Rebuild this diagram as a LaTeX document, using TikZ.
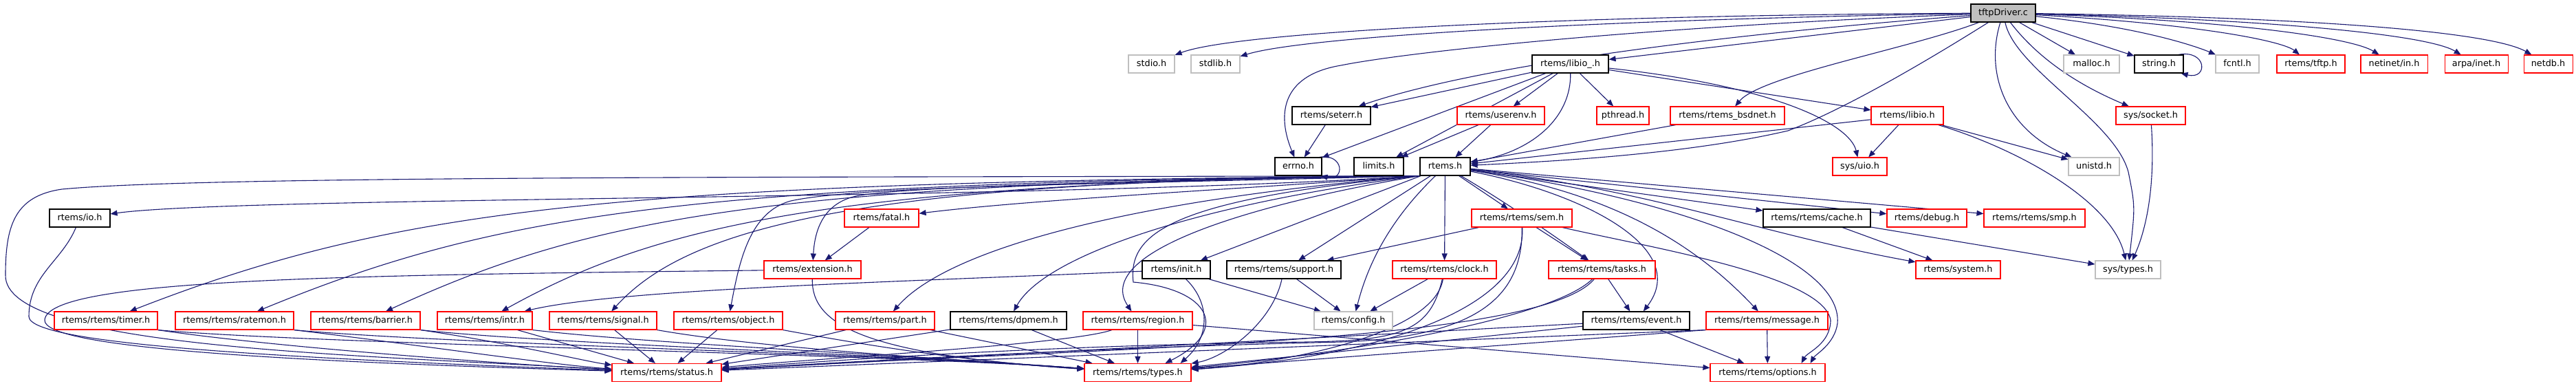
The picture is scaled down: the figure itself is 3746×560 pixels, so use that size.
\documentclass[tikz,border=0pt]{standalone}
\usepackage{fontspec}
\setmainfont{DejaVu Sans}
\usetikzlibrary{arrows.meta}
\definecolor{edgeblue}{HTML}{191970}
\definecolor{nodegrey}{HTML}{BFBFBF}
\definecolor{noderedc}{HTML}{FF0000}
\pgfdeclarelayer{edgelayer}
\pgfsetlayers{edgelayer,main}
\tikzset{
  nbase/.style={rectangle, line width=1.1pt, fill=white, minimum height=26pt, inner sep=0pt,
    text height=9.5pt, text depth=2.5pt, font=\fontsize{12.8}{14}\selectfont},
  kbox/.style={nbase, draw=black},
  rbox/.style={nbase, draw=noderedc},
  gbox/.style={nbase, draw=nodegrey},
  rootbox/.style={nbase, draw=black, fill=nodegrey},
  e/.style={draw=edgeblue, line width=1.1pt, -{Triangle[length=10pt,width=8pt]}, fill=none},
}
\begin{document}
\begin{tikzpicture}[x=1pt,y=-1pt]
\useasboundingbox (0,0) rectangle (3746,560);
% row 0
\node[rootbox, minimum width=94pt] (tftp) at (2913,19) {tftpDriver.c};
% row 1
\node[gbox, minimum width=67pt] (stdio) at (1674.5,93) {stdio.h};
\node[gbox, minimum width=71pt] (stdlib) at (1767.5,93) {stdlib.h};
\node[kbox, minimum width=111pt] (libiou) at (2283.5,93) {rtems/libio\_.h};
\node[gbox, minimum width=81pt] (malloc) at (3041.5,93) {malloc.h};
\node[kbox, minimum width=71pt] (string) at (3139.5,93) {string.h};
\node[gbox, minimum width=63pt] (fcntl) at (3253.5,93) {fcntl.h};
\node[rbox, minimum width=99pt] (tftph) at (3360.5,93) {rtems/tftp.h};
\node[rbox, minimum width=97pt] (netin) at (3481.5,93) {netinet/in.h};
\node[rbox, minimum width=92pt] (arpa) at (3601,93) {arpa/inet.h};
\node[rbox, minimum width=71pt] (netdb) at (3705.5,93) {netdb.h};
% row 2
\node[kbox, minimum width=114pt] (seterr) at (1936,168) {rtems/seterr.h};
\node[rbox, minimum width=127pt] (userenv) at (2182.5,168) {rtems/userenv.h};
\node[rbox, minimum width=76pt] (pthread) at (2360,168) {pthread.h};
\node[rbox, minimum width=166pt] (bsdnet) at (2512,168) {rtems/rtems\_bsdnet.h};
\node[rbox, minimum width=105pt] (libio) at (2773.5,168) {rtems/libio.h};
\node[rbox, minimum width=101pt] (socket) at (3127.5,168) {sys/socket.h};
% row 3
\node[kbox, minimum width=68pt] (errno) at (1888,242) {errno.h};
\node[kbox, minimum width=72pt] (limits) at (2005,242) {limits.h};
\node[kbox, minimum width=73pt] (rtems) at (2101.5,242) {rtems.h};
\node[rbox, minimum width=79pt] (uio) at (2704.5,242) {sys/uio.h};
\node[gbox, minimum width=74pt] (unistd) at (3045,242) {unistd.h};
% row 4
\node[kbox, minimum width=88pt] (io) at (116,317) {rtems/io.h};
\node[rbox, minimum width=108pt] (fatal) at (1282,317) {rtems/fatal.h};
\node[rbox, minimum width=146pt] (sem) at (2213,317) {rtems/rtems/sem.h};
\node[kbox, minimum width=156pt] (cache) at (2642,317) {rtems/rtems/cache.h};
\node[rbox, minimum width=116pt] (debug) at (2802,317) {rtems/debug.h};
\node[rbox, minimum width=147pt] (smp) at (2958.5,317) {rtems/rtems/smp.h};
% row 5
\node[rbox, minimum width=141pt] (ext) at (1181.5,392) {rtems/extension.h};
\node[kbox, minimum width=99pt] (init) at (1710.5,392) {rtems/init.h};
\node[kbox, minimum width=166pt] (support) at (1867,392) {rtems/rtems/support.h};
\node[rbox, minimum width=151pt] (clock) at (2100.5,392) {rtems/rtems/clock.h};
\node[rbox, minimum width=155pt] (tasks) at (2329.5,392) {rtems/rtems/tasks.h};
\node[rbox, minimum width=123pt] (system) at (2847.5,392) {rtems/system.h};
\node[gbox, minimum width=95pt] (systypes) at (3094.5,392) {sys/types.h};
% row 6
\node[rbox, minimum width=150pt] (timer) at (154,466) {rtems/rtems/timer.h};
\node[rbox, minimum width=172pt] (ratemon) at (341,466) {rtems/rtems/ratemon.h};
\node[rbox, minimum width=159pt] (barrier) at (531.5,466) {rtems/rtems/barrier.h};
\node[rbox, minimum width=138pt] (intr) at (705,466) {rtems/rtems/intr.h};
\node[rbox, minimum width=156pt] (signal) at (877,466) {rtems/rtems/signal.h};
\node[rbox, minimum width=158pt] (object) at (1059,466) {rtems/rtems/object.h};
\node[rbox, minimum width=144pt] (part) at (1287,466) {rtems/rtems/part.h};
\node[kbox, minimum width=169pt] (dpmem) at (1466.5,466) {rtems/rtems/dpmem.h};
\node[rbox, minimum width=159pt] (region) at (1654.5,466) {rtems/rtems/region.h};
\node[gbox, minimum width=114pt] (config) at (1968,466) {rtems/config.h};
\node[kbox, minimum width=155pt] (event) at (2379.5,466) {rtems/rtems/event.h};
\node[rbox, minimum width=177pt] (message) at (2569.5,466) {rtems/rtems/message.h};
% row 7
\node[rbox, minimum width=159pt] (status) at (969.5,541.5) {rtems/rtems/status.h};
\node[rbox, minimum width=155pt] (types) at (1654.5,541.5) {rtems/rtems/types.h};
\node[rbox, minimum width=167pt] (options) at (2570.5,541.5) {rtems/rtems/options.h};

\begin{pgfonlayer}{edgelayer}
% ---------------- tftpDriver.c
\draw[e] (tftp) .. controls (2300,22) and (1800,45) .. (stdio);
\draw[e] (tftp) .. controls (2350,28) and (1900,52) .. (stdlib);
\draw[e] (tftp) .. controls (2400,38) and (2050,75) .. (1950,95) .. controls (1860,110) and (1858,170) .. (errno);
\draw[e] (tftp) -- (libiou);
\draw[e] (tftp) .. controls (2500,50) and (2150,95) .. (seterr);
\draw[e] (tftp) .. controls (2780,70) and (2560,110) .. (bsdnet);
\draw[e] (tftp) .. controls (2800,90) and (2680,160) .. (2600,190) .. controls (2450,225) and (2250,235) .. (rtems);
\draw[e] (tftp) .. controls (2885,110) and (2920,190) .. (unistd);
\draw[e] (tftp) .. controls (2930,100) and (3075,175) .. (3095,250) .. controls (3105,300) .. (systypes);
\draw[e] (tftp) .. controls (2975,100) and (3050,135) .. (socket);
\draw[e] (tftp) -- (malloc);
\draw[e] (tftp) -- (string);
\draw[e] (tftp) .. controls (3120,40) and (3200,70) .. (fcntl);
\draw[e] (tftp) .. controls (3200,35) and (3320,60) .. (tftph);
\draw[e] (tftp) .. controls (3250,30) and (3420,55) .. (netin);
\draw[e] (tftp) .. controls (3300,28) and (3530,50) .. (arpa);
\draw[e] (tftp) .. controls (3350,25) and (3620,45) .. (netdb);
\draw[e] ([xshift=-8pt]string.north east) .. controls +(42,-8) and +(40,10) .. ([xshift=-4pt]string.south east);
\draw[e] ([xshift=-4pt]errno.north east) .. controls +(36,-6) and +(36,8) .. ([xshift=-2pt]errno.south east);
% ---------------- rtems/libio_.h
\draw[e] (libiou) -- (seterr);
\draw[e] (libiou) -- (errno);
\draw[e] (libiou) -- (limits);
\draw[e] (libiou) -- (userenv);
\draw[e] (libiou) -- (pthread);
\draw[e] (libiou) .. controls (2285,170) and (2230,220) .. (rtems);
\draw[e] (libiou) -- (libio);
\draw[e] (libiou) .. controls (2580,125) and (2690,180) .. (uio);
% ---------------- row 2
\draw[e] (seterr) -- (errno);
\draw[e] (userenv) -- (limits);
\draw[e] (userenv) -- (rtems);
\draw[e] (bsdnet) -- (rtems);
\draw[e] (libio) -- (rtems);
\draw[e] (libio) -- (uio);
\draw[e] (libio) -- (unistd);
\draw[e] (libio) .. controls (2930,215) and (3070,290) .. (systypes);
\draw[e] (socket) .. controls (3135,280) and (3118,340) .. (systypes);
% ---------------- rtems.h, leftward bundle
\draw[e] (rtems.south west) .. controls (1200,258) and (300,255) .. (90,275) .. controls (20,285) and (8,330) .. (8,400) .. controls (6,505) and (500,515) .. (status);
\draw[e] (rtems.south west) .. controls (1500,292) and (350,285) .. (io);
\draw[e] (rtems.south west) .. controls (1800,275) and (1500,290) .. (fatal);
\draw[e] (rtems.south west) .. controls (1700,262) and (1320,270) .. (1245,285) .. controls (1200,295) and (1185,330) .. (ext);
\draw[e] (rtems.south west) .. controls (900,265) and (580,300) .. (timer);
\draw[e] (rtems.south west) .. controls (1000,265) and (720,310) .. (ratemon);
\draw[e] (rtems.south west) .. controls (1100,265) and (850,320) .. (barrier);
\draw[e] (rtems.south west) .. controls (1200,265) and (950,330) .. (intr);
\draw[e] (rtems.south west) .. controls (1250,262) and (1000,330) .. (signal);
\draw[e] (rtems.south west) .. controls (1600,268) and (1250,270) .. (1150,292) .. controls (1090,308) and (1075,380) .. (object);
\draw[e] (rtems.south west) .. controls (1650,290) and (1380,360) .. (part);
\draw[e] (rtems.south west) .. controls (1750,295) and (1520,370) .. (dpmem);
\draw[e] (rtems.south west) .. controls (1800,300) and (1590,370) .. (region);
\draw[e] (rtems.south west) .. controls (1700,290) and (1640,340) .. (1648,410) .. controls (1760,420) and (1790,480) .. ([xshift=40pt]types.north);
% ---------------- rtems.h, downward and rightward
\draw[e] (rtems) -- (init);
\draw[e] (rtems) -- (support);
\draw[e] (rtems) .. controls (2010,330) and (1985,400) .. (config);
\draw[e] (rtems) -- (clock);
\draw[e] (rtems) -- (sem);
\draw[e] (rtems) .. controls (2200,300) and (2270,350) .. (tasks);
\draw[e] (rtems) .. controls (2300,280) and (2460,360) .. (event);
\draw[e] (rtems) .. controls (2350,280) and (2470,360) .. (message);
\draw[e] (rtems) .. controls (2450,290) and (2680,380) .. (2672,470) .. controls (2668,500) and (2640,515) .. ([xshift=-22pt]options.north east);
\draw[e] (rtems) -- (cache);
\draw[e] (rtems) -- (debug);
\draw[e] (rtems) -- (smp);
\draw[e] (rtems) .. controls (2400,275) and (2560,340) .. (system);
% ---------------- sem
\draw[e] (sem) -- (support);
\draw[e] (sem) -- (tasks);
\draw[e] (sem) .. controls (2215,430) and (2150,490) .. (1950,497) .. controls (1600,505) and (1250,525) .. (status);
\draw[e] (sem) .. controls (2220,450) and (2000,520) .. (types);
\draw[e] (sem) .. controls (2400,360) and (2650,400) .. (2662,465) .. controls (2662,500) and (2628,512) .. ([xshift=-35pt]options.north east);
% ---------------- cache, fatal, io, extension
\draw[e] (cache) -- (system);
\draw[e] (cache) -- (systypes);
\draw[e] (fatal) -- (ext);
\draw[e] (io) .. controls (90,380) and (42,400) .. (42,460) .. controls (42,500) and (400,520) .. (status);
\draw[e] (ext) .. controls (500,400) and (70,405) .. (65,465) .. controls (62,505) and (400,525) .. (status);
\draw[e] (ext) .. controls (1180,470) and (1250,515) .. (types);
% ---------------- row 5
\draw[e] (init) .. controls (1300,410) and (900,420) .. (intr);
\draw[e] (init) -- (config);
\draw[e] (init) .. controls (1760,440) and (1760,490) .. ([xshift=62pt]types.north);
\draw[e] (support) -- (config);
\draw[e] (support) .. controls (1850,470) and (1780,520) .. (types);
\draw[e] (clock) -- (config);
\draw[e] (clock) .. controls (2085,490) and (1850,530) .. (types);
\draw[e] (clock) .. controls (2080,480) and (2040,495) .. (1900,497) .. controls (1500,502) and (1200,525) .. (status);
\draw[e] (tasks) -- (event);
\draw[e] (tasks) .. controls (2250,470) and (1900,520) .. (types);
\draw[e] (tasks) .. controls (2240,500) and (1600,505) .. (status);
% ---------------- row 6
\draw[e] (event) -- (options);
\draw[e] (event) -- (types);
\draw[e] (event) -- (status);
\draw[e] (message) -- (options);
\draw[e] (message.south west) -- (types);
\draw[e] (message.south west) -- (status);
\draw[e] (region) -- (types);
\draw[e] (region) -- (options);
\draw[e] (region) .. controls (1560,500) and (1200,520) .. (status);
\draw[e] (dpmem) -- (types);
\draw[e] (dpmem) -- (status);
\draw[e] (part) -- (types);
\draw[e] (part) -- (status);
\draw[e] (object.south east) .. controls (1250,500) and (1400,525) .. (types);
\draw[e] (object) -- (status);
\draw[e] (signal.south east) .. controls (1100,505) and (1350,520) .. (types);
\draw[e] (signal) -- (status);
\draw[e] (intr.south east) .. controls (950,500) and (1300,515) .. (types);
\draw[e] (intr) -- (status);
\draw[e] (barrier.south east) .. controls (800,500) and (1300,515) .. (types);
\draw[e] (barrier.south east) .. controls (750,500) and (850,525) .. (status);
\draw[e] (ratemon.south east) .. controls (650,500) and (1300,515) .. (types);
\draw[e] (ratemon.south east) .. controls (600,500) and (800,530) .. (status);
\draw[e] (timer.south east) .. controls (450,500) and (1300,515) .. (types);
\draw[e] (timer.south east) .. controls (400,505) and (750,530) .. (status);
\end{pgfonlayer}
\end{tikzpicture}
\end{document}
